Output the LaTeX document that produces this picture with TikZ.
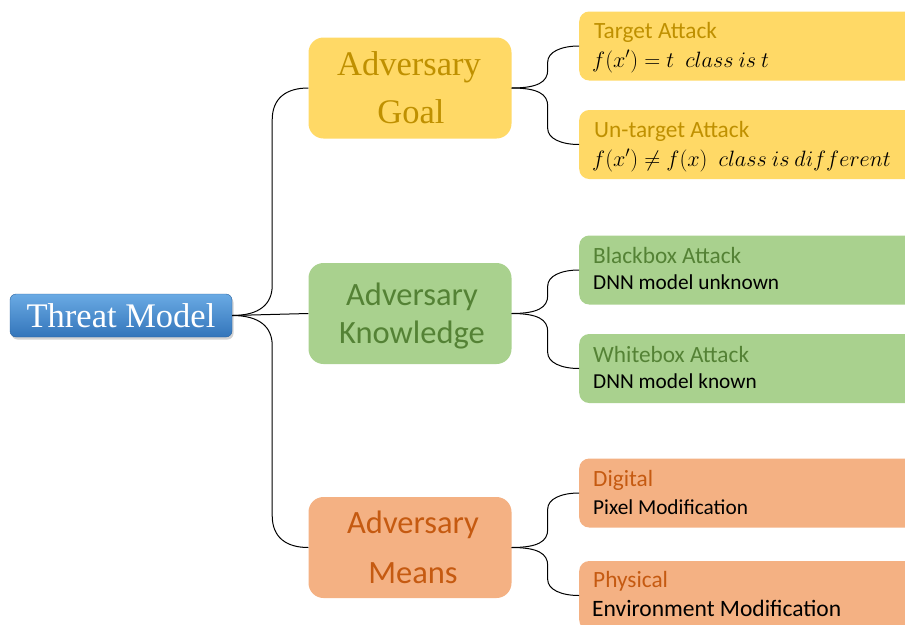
\documentclass[tikz,border=0pt]{standalone}
\usepackage{fontspec}
\setmainfont{Carlito}
\newfontfamily\serifface{Liberation Serif}
\usetikzlibrary{calc,shadows}

\definecolor{goldfill}{HTML}{FFD966}
\definecolor{goldtext}{HTML}{BF9000}
\definecolor{greenfill}{HTML}{A9D18E}
\definecolor{greentext}{HTML}{548235}
\definecolor{orangefill}{HTML}{F4B183}
\definecolor{orangetext}{HTML}{C55A11}
\definecolor{bluetop}{HTML}{6AAAE4}
\definecolor{bluebot}{HTML}{3375BA}

\tikzset{
  rootbox/.style={rectangle, rounded corners=6pt, draw=bluebot!85!black, line width=0.4pt,
    top color=bluetop, bottom color=bluebot, minimum width=222pt, minimum height=43pt,
    inner sep=0pt, drop shadow={opacity=0.35, shadow xshift=1.5pt, shadow yshift=-2.5pt}},
  midbox/.style={rectangle, rounded corners=15pt, minimum width=203pt, minimum height=101pt, inner sep=0pt},
  leafbox/.style={rectangle, rounded corners=10pt, minimum width=340pt, minimum height=69pt, inner sep=0pt},
  midtext/.style={anchor=base, inner sep=0pt, font=\fontsize{32.5}{38}\selectfont},
  midserif/.style={anchor=base, inner sep=0pt, font=\serifface\fontsize{34.5}{40}\selectfont},
  leaftitle/.style={anchor=base west, inner sep=0pt, font=\fontsize{23.3}{28}\selectfont},
  leafbody/.style={anchor=base west, inner sep=0pt, font=\fontsize{21.3}{26}\selectfont, text=black},
  mathbody/.style={anchor=base west, inner sep=0pt, font=\fontsize{20.74}{25}\selectfont, text=black},
  conn/.style={draw=black, line width=1pt}
}

\begin{document}
\begin{tikzpicture}[x=1pt,y=-1pt]
\useasboundingbox (0,0) rectangle (905,624);
\clip (0,0) rectangle (905,624);

% root
\node[rootbox] (tm) at (121,315.5) {};
\node[anchor=base, inner sep=0pt, text=white, font=\serifface\fontsize{34.5}{40}\selectfont] (tmtext) at (121,327) {Threat Model};

% second level
\node[midbox, fill=goldfill] (goal) at (410,88) {};
\node[midserif, text=goldtext] (goalA) at (409,75) {Adversary};
\node[midserif, text=goldtext] (goalB) at (411,123) {Goal};

\node[midbox, fill=greenfill] (know) at (410,313.5) {};
\node[midtext, text=greentext] (knowA) at (412,305) {Adversary};
\node[midtext, text=greentext] (knowB) at (412,343) {Knowledge};

\node[midbox, fill=orangefill] (means) at (410,547.5) {};
\node[midtext, text=orangetext] (meansA) at (413,533) {Adversary};
\node[midtext, text=orangetext] (meansB) at (413,583) {Means};

% leaves
\node[leafbox, fill=goldfill, anchor=west] (tgt) at (579,46) {};
\node[leaftitle, text=goldtext] (tgtA) at (594,38) {Target Attack};
\node[mathbody] (tgtB) at (592,67) {\scalebox{1.07}{$f(x')=t$\enspace$class\ is\ t$}};

\node[leafbox, fill=goldfill, anchor=west] (utg) at (579,144.5) {};
\node[leaftitle, text=goldtext] (utgA) at (594,137) {Un-target Attack};
\node[mathbody] (utgB) at (592,166) {\scalebox{1.07}{$f(x')\neq f(x)$\enspace$class\ is\ different$}};

\node[leafbox, fill=greenfill, anchor=west] (bb) at (579,270) {};
\node[leaftitle, text=greentext] (bbA) at (593,263) {Blackbox Attack};
\node[leafbody] (bbB) at (593,289) {DNN model unknown};

\node[leafbox, fill=greenfill, anchor=west] (wb) at (579,368.5) {};
\node[leaftitle, text=greentext] (wbA) at (593,362) {Whitebox Attack};
\node[leafbody] (wbB) at (593,388) {DNN model known};

\node[leafbox, fill=orangefill, anchor=west] (dig) at (579,493) {};
\node[leaftitle, text=orangetext] (digA) at (593,486) {Digital};
\node[leafbody] (digB) at (593,514) {Pixel Modification};

\node[leafbox, fill=orangefill, anchor=west] (phy) at (579,595.5) {};
\node[leaftitle, text=orangetext] (phyA) at (593,587) {Physical};
\node[leafbody, font=\fontsize{23.5}{28}\selectfont] (phyB) at (592,616) {Environment Modification};

% root connectors: a vertical spine at a fixed distance from the root
\coordinate (spine) at ($(tm.east)+(40,0)$);
\draw[conn] (tm.east) .. controls +(28,0) and +(0,18) .. ($(spine)+(0,-30)$)
  -- ($(spine |- goal.west)+(0,32)$) .. controls +(0,-22) and +(-22,0) .. (goal.west);
\draw[conn] (tm.east) -- (know.west);
\draw[conn] (tm.east) .. controls +(28,0) and +(0,-18) .. ($(spine)+(0,30)$)
  -- ($(spine |- means.west)+(0,-32)$) .. controls +(0,22) and +(-22,0) .. (means.west);

% leaf connectors
\foreach \src/\up/\down in {goal/tgt/utg, know/bb/wb, means/dig/phy}{
  \coordinate (lsp) at ($(\src.east)+(36,0)$);
  \draw[conn] (\src.east) .. controls +(26,0) and +(0,12) .. ($(lsp)+(0,-18)$)
    -- ($(lsp |- \up.west)+(0,16)$)
    .. controls +(0,-10) and +(-18,0) .. (\up.west);
  \draw[conn] (\src.east) .. controls +(26,0) and +(0,-12) .. ($(lsp)+(0,18)$)
    -- ($(lsp |- \down.west)+(0,-16)$)
    .. controls +(0,10) and +(-18,0) .. (\down.west);
}
\end{tikzpicture}
\end{document}
